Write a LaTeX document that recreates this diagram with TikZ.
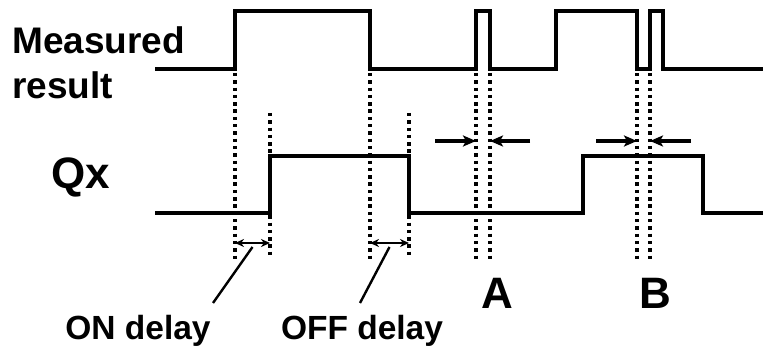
\documentclass[tikz,border=0pt]{standalone}
\usepackage{fontspec}
\setmainfont{Liberation Sans}
\usetikzlibrary{arrows.meta,calc}

\begin{document}
\begin{tikzpicture}[
  x=1pt,y=-1pt,
  sig/.style={line width=4pt,line join=miter},
  guide/.style={line width=3.2pt,dash pattern=on 3.4pt off 3.9pt},
  gap/.style={-{Stealth[length=13pt,width=11pt,inset=3pt]},line width=4pt},
  span/.style={{Stealth[length=9pt,width=8pt]}-{Stealth[length=9pt,width=8pt]},line width=2.6pt},
  lead/.style={line width=2.4pt},
  lbl/.style={inner sep=0pt,anchor=base,font=\bfseries\fontsize{33.5}{38}\selectfont},
  big/.style={inner sep=0pt,anchor=base,font=\bfseries\fontsize{44}{50}\selectfont}
]
\useasboundingbox (0,0) rectangle (763,350);
% signal names
\node[lbl,anchor=base west,font=\bfseries\fontsize{37}{42}\selectfont] (measured) at (12,54) {Measured};
\node[lbl,anchor=base west,font=\bfseries\fontsize{37}{42}\selectfont] (result) at (12,99) {result};
\node[big] (qx) at (81,188) {Qx};
% waveforms
\draw[sig] (155,69) -- (235,69) -- (235,11) -- (370,11) -- (370,69) -- (476,69) -- (476,11) -- (490,11)
  -- (490,69) -- (556,69) -- (556,11) -- (637,11) -- (637,69) -- (650,69) -- (650,11) -- (663,11) -- (663,69) -- (763,69);
\draw[sig] (155,213) -- (270,213) -- (270,156) -- (409,156) -- (409,213) -- (583,213) -- (583,156) -- (703,156)
  -- (703,213) -- (763,213);
% edge guides
\foreach \x in {235,370,476,490,637,650}
  \draw[guide] (\x,73) -- (\x,260);
\foreach \x in {270,409}
  \draw[guide] (\x,113) -- (\x,255);
% delays
\coordinate (onL) at (235,243);
\coordinate (onR) at (270,243);
\coordinate (offL) at (370,243);
\coordinate (offR) at (409,243);
\draw[span] (onL) -- (onR);
\draw[span] (offL) -- (offR);
\node[lbl] (ondelay) at (138,339) {ON delay};
\node[lbl] (offdelay) at (362,339) {OFF delay};
\coordinate (onfoot) at (213,303);
\coordinate (offfoot) at (360,303);
\draw[lead] ($(onL)!0.5!(onR)+(0,4)$) -- (onfoot);
\draw[lead] ($(offL)!0.5!(offR)+(0,4)$) -- (offfoot);
% short pulses
\coordinate (aL) at (435,141);
\coordinate (aR) at (530,141);
\coordinate (bL) at (596,141);
\coordinate (bR) at (691,141);
\draw[gap] (aL) -- (476,141);
\draw[gap] (aR) -- (490,141);
\draw[gap] (bL) -- (637,141);
\draw[gap] (bR) -- (650,141);
\node[big] (a) at (497,308) {A};
\node[big] (b) at (655,308) {B};
\end{tikzpicture}
\end{document}
